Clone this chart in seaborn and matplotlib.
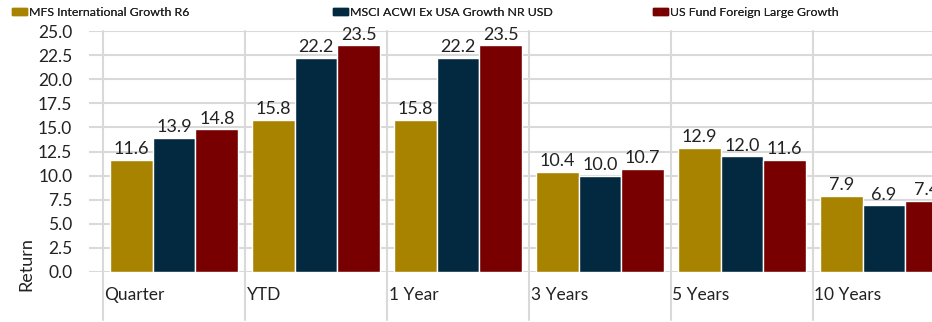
import numpy as np
import pandas as pd
import matplotlib.pyplot as plt
import seaborn as sns
from matplotlib.patches import Patch
from matplotlib.transforms import blended_transform_factory

# Data
periods = ["Quarter", "YTD", "1 Year", "3 Years", "5 Years", "10 Years"]
series = ["MFS International Growth R6", "MSCI ACWI Ex USA Growth NR USD", "US Fund Foreign Large Growth"]
mfs = [11.6, 15.8, 15.8, 10.4, 12.9, 7.9]
msci = [13.9, 22.2, 22.2, 10.0, 12.0, 6.9]
peers = [14.8, 23.5, 23.5, 10.7, 11.6, 7.4]
colors = ["#A88300", "#02293F", "#780000"]

df = pd.DataFrame({
    "period": periods * 3,
    "series": [series[0]] * 6 + [series[1]] * 6 + [series[2]] * 6,
    "value": mfs + msci + peers,
})

sns.set_theme(style="white")
plt.rcParams["font.family"] = ["Lato", "DejaVu Sans"]

fig = plt.figure(figsize=(9.32, 3.22), dpi=100)
ax = fig.add_axes([89 / 932, 1 - 272 / 322, 1 - 89 / 932, (272 - 31) / 322])

sns.barplot(data=df, x="period", y="value", hue="series", order=periods,
            hue_order=series, palette=colors, width=0.9, saturation=1,
            edgecolor="white", linewidth=1, legend=False, ax=ax)

for cont in ax.containers:
    ax.bar_label(cont, fmt="%.1f", padding=2, fontsize=13, color="#222222")

ax.set_ylim(0, 25)
ax.set_xlim(-0.6, len(periods) - 0.662)
ax.set_yticks(np.arange(0, 25.1, 2.5))
ax.set_yticklabels([f"{v:.1f}" for v in np.arange(0, 25.1, 2.5)], fontsize=12.5, color="#222222")
ax.tick_params(axis="y", length=0, pad=12)
ax.set_xticks([])
ax.set_xlabel("")
ax.set_ylabel("Return", fontsize=13, color="#222222")
ax.yaxis.set_label_coords(-0.065, 0.035)

ax.grid(axis="y", color="#d9d9d9", linewidth=1.5)
ax.set_axisbelow(True)
for s in ax.spines.values():
    s.set_visible(False)

# category separators and labels
trans = blended_transform_factory(ax.transData, ax.transAxes)
for i, p in enumerate(periods):
    ax.axvline(i - 0.5, ymin=-0.2, ymax=1, color="#d9d9d9", linewidth=1.5,
               clip_on=False, zorder=0)
    ax.text(i - 0.49, -0.095, p, transform=trans, ha="left", va="center",
            fontsize=12.5, color="#222222")
ax.axvline(len(periods) - 0.5, ymin=-0.2, ymax=1, color="#d9d9d9", linewidth=1.5,
           clip_on=False, zorder=0)

# legend entries placed along the top
leg_x = [12 / 932, 333 / 932, 653 / 932]
for name, col, x in zip(series, colors, leg_x):
    leg = fig.legend(handles=[Patch(facecolor=col, edgecolor=col)], labels=[name],
                     loc="center left", bbox_to_anchor=(x, 1 - 12 / 322),
                     frameon=False, fontsize=8.9, handlelength=1.2, handleheight=0.5,
                     handletextpad=0.15, borderpad=0, borderaxespad=0)
    for t in leg.get_texts():
        t.set_color("#222222")
    fig.add_artist(leg)

fig.savefig("out.png", dpi=100)
